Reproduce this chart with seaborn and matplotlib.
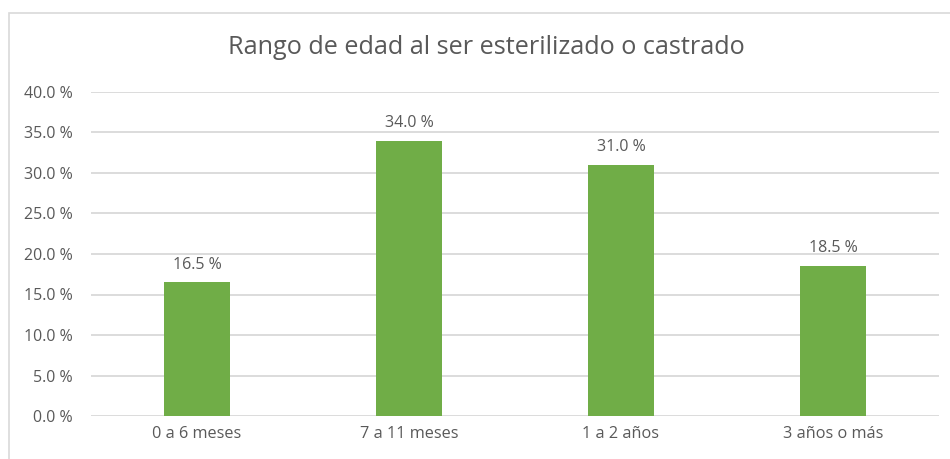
import matplotlib
matplotlib.use("Agg")
import matplotlib.pyplot as plt
import seaborn as sns
import pandas as pd
from matplotlib.patches import Rectangle

categories = ["0 a 6 meses", "7 a 11 meses", "1 a 2 años", "3 años o más"]
values = [16.5, 34.0, 31.0, 18.5]
yticks = [0, 5, 10, 15, 20, 25, 30, 35, 40]
title = "Rango de edad al ser esterilizado o castrado"

sns.set_theme(style="white")
plt.rcParams['font.family'] = ['Open Sans', 'DejaVu Sans']

W, H = 950, 459
fig = plt.figure(figsize=(W / 100, H / 100), dpi=100)
ax = fig.add_axes([91 / W, (H - 416) / H, (939 - 91) / W, (416 - 92) / H])

df = pd.DataFrame({"cat": categories, "val": values})
sns.barplot(data=df, x="cat", y="val", color="#70AD47", saturation=1, width=0.316,
            linewidth=0, ax=ax)

ax.set_ylim(0, 40)
ax.set_xlim(-0.5, 3.5)
ax.set_yticks(yticks)
ax.set_yticklabels([f"{v:.1f} %" for v in yticks])
ax.grid(axis="y", color="#D9D9D9", linewidth=1.3)
ax.set_axisbelow(True)
for s in ax.spines.values():
    s.set_visible(False)
ax.set_xlabel("")
ax.set_ylabel("")
ax.tick_params(axis="both", length=0, colors="#595959")
ax.tick_params(axis="x", labelsize=11.7, pad=7)
ax.tick_params(axis="y", labelsize=11.5, pad=13)

for p, v in zip(ax.patches, values):
    ax.annotate(f"{v:.1f} %", (p.get_x() + p.get_width() / 2, p.get_height()),
                xytext=(0, 7), textcoords="offset points", ha="center", va="bottom",
                fontsize=11.5, color="#595959")

fig.text(486 / W, 1 - 47 / H, title, ha="center", va="center", fontsize=18.2, color="#595959")

fig.patches.append(Rectangle((9 / W, -0.1), 1.2, 1 - 13 / H + 0.1, transform=fig.transFigure,
                             fill=False, edgecolor="#D9D9D9", linewidth=1.2))

fig.savefig("out.png", dpi=100, facecolor="white")
